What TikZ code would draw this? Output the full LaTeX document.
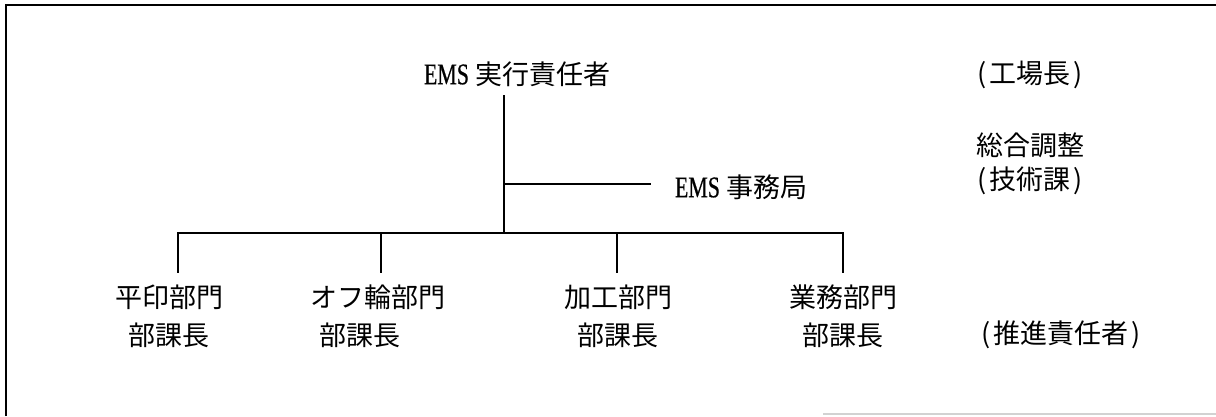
\documentclass[tikz,border=0pt]{standalone}
\usepackage{fontspec}
\setmainfont{Noto Sans CJK JP}
\newfontfamily\emsfont[FakeStretch=0.73,FakeBold=0.6]{Liberation Serif}
\newcommand{\EMS}{{\fontsize{30}{38}\emsfont EMS}}
\newcommand{\lp}{(\kern3pt}
\newcommand{\rp}{\kern3pt)}
\begin{document}
\begin{tikzpicture}[x=1pt,y=-1pt,
  lbl/.style={inner sep=0pt,font=\fontsize{27}{38}\selectfont,align=center},
  conn/.style={line width=1.8pt,line cap=rect},
  frame/.style={line width=2.6pt}]
\useasboundingbox (0,0) rectangle (1216,416);
\fill[white] (0,0) rectangle (1216,416);
% frame (open on the right and bottom, as scanned)
\draw[frame] (6,416) -- (6,5) -- (1216,5);
\draw[gray!35,line width=1.5pt] (823,414) -- (1216,414);
% nodes
\node[lbl] (top) at (517,74) {\EMS{} 実行責任者};
\node[lbl] (kojo) at (1030,75) {\lp 工場長\rp};
\node[lbl] (sogo) at (1030,145) {総合調整};
\node[lbl] (gijutsu) at (1030,181) {\lp 技術課\rp};
\node[lbl] (jimu) at (741,187) {\EMS{} 事務局};
\node[lbl] (l1) at (169,316) {平印部門\\部課長};
\node[lbl] (l2) at (378,316) {オフ輪部門\\\hspace*{-36pt}部課長};
\node[lbl] (l3) at (618,316) {加工部門\\部課長};
\node[lbl] (l4) at (843,316) {業務部門\\部課長};
\node[lbl] (suishin) at (1061,335) {\lp 推進責任者\rp};
% connectors
\coordinate (j) at (504,184);
\coordinate (bus) at (504,233);
\coordinate (b1) at (178,233);
\coordinate (b2) at (381,233);
\coordinate (b3) at (617,233);
\coordinate (b4) at (843,233);
\draw[conn,shorten <=9pt] (top.south -| bus) -- (bus);
\draw[conn,shorten >=25pt] (j) -- (j -| jimu.west);
\draw[conn] (b1) -- (b4);
\foreach \b/\l in {b1/l1,b2/l2,b3/l3,b4/l4}
  \draw[conn,shorten >=12pt] (\b) -- (\b |- \l.north);
\end{tikzpicture}
\end{document}
